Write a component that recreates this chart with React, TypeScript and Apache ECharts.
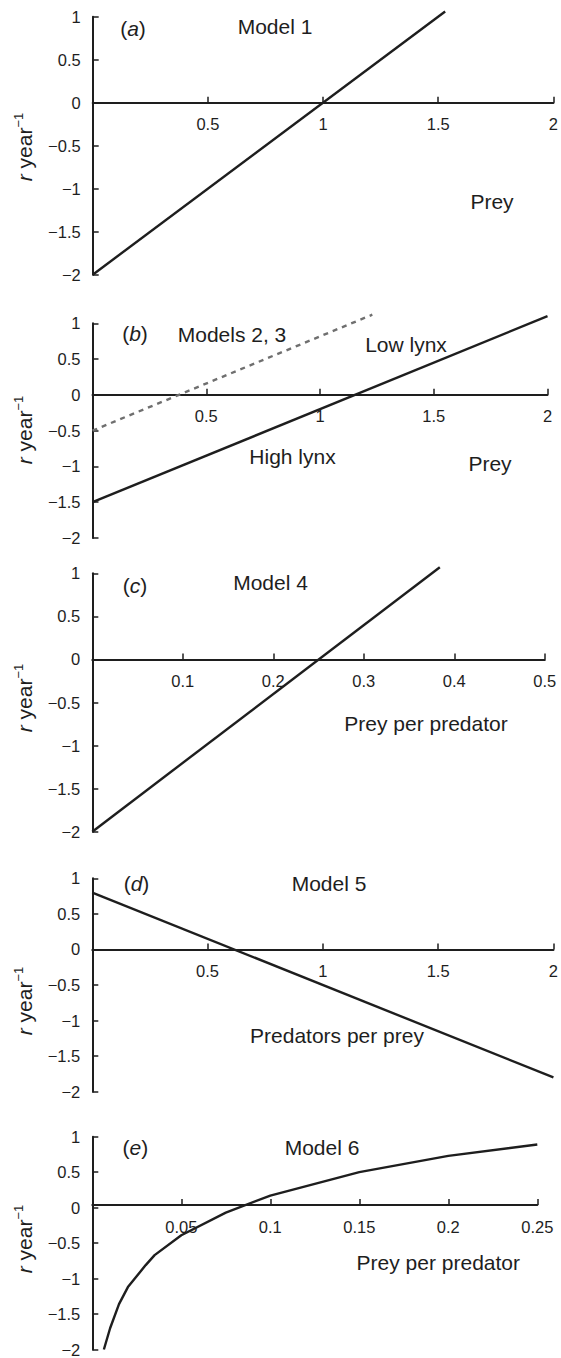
import React, { useEffect, useRef } from "react";
import * as echarts from "echarts";

// ---- data ----
const xTicksA = [0, 2, 0.5];
const lineA = [[0, -2], [1.53, 1.06]];

const xTicksB = [0, 2, 0.5];
const lowLynx = [[0, -1.5], [2, 1.1]];
const highLynxDashed = [[0, -0.5], [1.23, 1.12]];

const xTicksC = [0, 0.5, 0.1];
const lineC = [[0, -2], [0.384, 1.07]];

const xTicksD = [0, 2, 0.5];
const lineD = [[0, 0.8], [2, -1.8]];

const xTicksE = [0, 0.25, 0.05];
const curveEx = [0.0065, 0.01, 0.015, 0.02, 0.03, 0.035, 0.05, 0.075, 0.1, 0.15, 0.2, 0.25];
const curveEy = [-2.0, -1.7, -1.36, -1.12, -0.81, -0.67, -0.39, -0.07, 0.17, 0.5, 0.73, 0.89];

const yRange = [-2, 1, 0.5];

const panelLetters = ["a", "b", "c", "d", "e"];
const panelTitles = ["Model 1", "Models 2, 3", "Model 4", "Model 5", "Model 6"];

// ---- layout (pixels) ----
const grids = [
  { left: 92.7, top: 16.7, width: 463, height: 258 },
  { left: 92.5, top: 323.3, width: 455, height: 214.7 },
  { left: 92.3, top: 573.3, width: 452.5, height: 258.4 },
  { left: 92.3, top: 878.3, width: 464, height: 213.4 },
  { left: 92.3, top: 1136.7, width: 445, height: 216.6 },
];
const letterPos = [[133, 28], [135, 333], [135, 585], [136.5, 883], [135.4, 1147]];
const titlePos = [[275, 26], [232, 334], [270.5, 582.5], [329, 883.5], [322, 1147]];
const yTitleY = [147, 430, 698, 1001, 1239];
const extraLabels = [
  { text: "Prey", x: 492, y: 201 },
  { text: "Low lynx", x: 406, y: 344 },
  { text: "High lynx", x: 292.5, y: 456 },
  { text: "Prey", x: 490, y: 463 },
  { text: "Prey per predator", x: 426, y: 723 },
  { text: "Predators per prey", x: 337, y: 1035 },
  { text: "Prey per predator", x: 438.3, y: 1262 },
];

const FONT = "'Liberation Sans', Arial, Helvetica, sans-serif";
const INK = "#1e1e1e";

export default function App() {
  const ref = useRef<HTMLDivElement>(null);
  useEffect(() => {
    if (!ref.current) return;
    const chart = echarts.init(ref.current, undefined, { renderer: "svg" });
    const xTicks = [xTicksA, xTicksB, xTicksC, xTicksD, xTicksE];
    const fmt = (v: number) => {
      const s = String(Math.round(v * 1000) / 1000);
      return s.replace("-", "\u2212");
    };
    const zeroFrac = (0 - yRange[0]) / (yRange[1] - yRange[0]);
    const xAxis = xTicks.map((t, i) => ({
      type: "value",
      gridIndex: i,
      position: "bottom",
      offset: -grids[i].height * zeroFrac,
      min: t[0],
      max: t[1],
      interval: t[2],
      axisLine: { show: true, onZero: false, lineStyle: { color: INK, width: 2 } },
      axisTick: { show: true, inside: true, length: 6, lineStyle: { color: INK, width: 1.5 } },
      axisLabel: {
        showMinLabel: false,
        margin: 13,
        color: INK,
        fontSize: 16.5,
        fontFamily: FONT,
        formatter: fmt,
      },
      splitLine: { show: false },
    }));
    const yAxis = grids.map((_, i) => ({
      type: "value",
      gridIndex: i,
      min: yRange[0],
      max: yRange[1],
      interval: yRange[2],
      axisLine: { show: true, onZero: false, lineStyle: { color: INK, width: 2 } },
      axisTick: { show: true, inside: true, length: 6, lineStyle: { color: INK, width: 1.5 } },
      axisLabel: { margin: 12, color: INK, fontSize: 16.5, fontFamily: FONT, formatter: fmt },
      splitLine: { show: false },
    }));
    const solid = (data: number[][], i: number) => ({
      type: "line",
      xAxisIndex: i,
      yAxisIndex: i,
      data,
      showSymbol: false,
      clip: false,
      smooth: false,
      lineStyle: { color: INK, width: 2.4 },
    });
    const series: any[] = [
      solid(lineA, 0),
      solid(lowLynx, 1),
      {
        type: "line",
        xAxisIndex: 1,
        yAxisIndex: 1,
        data: highLynxDashed,
        showSymbol: false,
        clip: false,
        lineStyle: { color: "#6f6f6f", width: 2.4, type: [5, 5] },
      },
      solid(lineC, 2),
      solid(lineD, 3),
      solid(curveEx.map((x, k) => [x, curveEy[k]]), 4),
    ];
    const textStyle = (text: string, x: number, y: number, extra: any = {}) => ({
      type: "text",
      x,
      y,
      style: {
        text,
        fill: INK,
        fontSize: 21,
        fontFamily: FONT,
        align: "center",
        verticalAlign: "middle",
        ...extra,
      },
    });
    const graphic: any[] = [];
    panelLetters.forEach((l, i) => {
      graphic.push(
        textStyle(`({i|${l}})`, letterPos[i][0], letterPos[i][1], {
          rich: { i: { fontStyle: "italic", fontSize: 21, fontFamily: FONT, fill: INK } },
        })
      );
      graphic.push(textStyle(panelTitles[i], titlePos[i][0], titlePos[i][1]));
      graphic.push({
        type: "text",
        x: 24,
        y: yTitleY[i],
        rotation: Math.PI / 2,
        style: {
          text: `{i|r}{m| year}{s|\u22121}`,
          fill: INK,
          fontSize: 21,
          fontFamily: FONT,
          align: "center",
          verticalAlign: "middle",
          rich: {
            i: { fontStyle: "italic", fontSize: 21, fontFamily: FONT, lineHeight: 24, fill: INK },
            m: { fontSize: 21, fontFamily: FONT, lineHeight: 24, fill: INK },
            s: { fontSize: 13, fontFamily: FONT, lineHeight: 14, verticalAlign: "top", fill: INK },
          },
        },
      });
    });
    extraLabels.forEach((e) => graphic.push(textStyle(e.text, e.x, e.y)));

    chart.setOption({
      animation: false,
      backgroundColor: "#ffffff",
      grid: grids.map((g) => ({ ...g, containLabel: false })),
      xAxis,
      yAxis,
      series,
      graphic,
    });
    return () => chart.dispose();
  }, []);
  return (
    <div
      ref={ref}
      style={{ position: "absolute", left: 0, top: 0, width: 561, height: 1358, background: "#fff" }}
    />
  );
}
